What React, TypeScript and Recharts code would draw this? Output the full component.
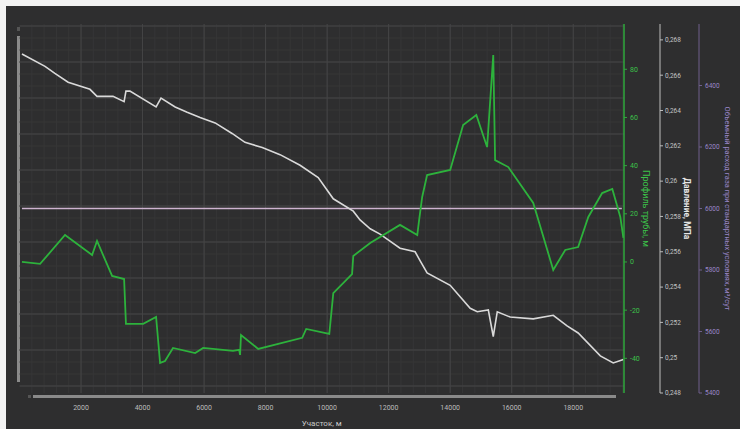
import React from "react";
import { LineChart, Line, XAxis, YAxis, CartesianGrid } from "recharts";

// Участок, м  /  давление, МПа
const pressureDist = [80, 830, 1150, 1580, 2290, 2520, 3040, 3400, 3460, 3590, 4440, 4600, 5060, 5450, 5870, 6360, 6910, 7330, 7890, 8470, 9120, 9710, 10200, 10850, 11070, 11400, 11720, 12370, 12860, 13020, 13250, 14000, 14650, 14880, 15240, 15400, 15530, 15950, 16700, 17350, 17800, 18160, 18880, 19300, 19630];
const pressureVals = [0.2672, 0.2665, 0.2661, 0.2656, 0.2652, 0.2648, 0.2648, 0.2645, 0.2651, 0.2651, 0.2642, 0.2647, 0.2642, 0.2639, 0.2636, 0.2633, 0.2627, 0.2622, 0.2619, 0.2615, 0.2609, 0.2602, 0.259, 0.2583, 0.2578, 0.2573, 0.257, 0.2562, 0.256, 0.2555, 0.2548, 0.2541, 0.2528, 0.2526, 0.2527, 0.2512, 0.2526, 0.2523, 0.2522, 0.2524, 0.2518, 0.2514, 0.2501, 0.2497, 0.2499];

// профиль трубы, м
const profileDist = [80, 670, 1480, 2360, 2520, 3010, 3400, 3460, 4020, 4440, 4570, 4730, 4990, 5710, 5970, 6940, 7140, 7170, 7200, 7760, 9190, 9320, 10070, 10200, 10810, 10850, 11400, 12370, 12930, 12990, 13090, 13250, 14000, 14420, 14850, 15200, 15400, 15460, 15890, 16700, 17350, 17740, 18160, 18490, 18940, 19270, 19530, 19630];
const profileVals = [0, -0.8, 11.2, 2.9, 8.7, -5.8, -7.1, -25.7, -25.7, -22.8, -41.9, -41.1, -35.7, -37.8, -35.7, -36.9, -36.5, -38.6, -30.3, -36.1, -31.5, -27.8, -29.9, -12.9, -5.0, 2.5, 7.9, 15.4, 11.2, 17.4, 27.0, 36.1, 38.2, 56.9, 61.0, 47.7, 85.9, 42.3, 39.4, 24.5, -3.3, 5.0, 6.2, 18.7, 28.6, 30.3, 18.7, 10.0];

// расход газа, м³/сут
const flowDist = [80, 19580];
const flowVals = [6000, 6000];

const xTicks = [2000, 4000, 6000, 8000, 10000, 12000, 14000, 16000, 18000];
const profileTicks = [-40, -20, 0, 20, 40, 60, 80];
const pressureTicks = [0.248, 0.25, 0.252, 0.254, 0.256, 0.258, 0.26, 0.262, 0.264, 0.266, 0.268];
const flowTicks = [5400, 5600, 5800, 6000, 6200, 6400];

const X_MAX = 19650;

const pressureData = pressureDist.map((d, i) => ({ d, v: pressureVals[i] }));
const profileData = profileDist.map((d, i) => ({ d, v: profileVals[i] }));
const flowData = flowDist.map((d, i) => ({ d, v: flowVals[i] }));

const minorX: number[] = [];
for (let t = 400; t < X_MAX; t += 400) minorX.push(t);

const fmtPressure = (v: number) => String(+v.toFixed(3)).replace(".", ",");

const plotBox = (p: any) => {
  const o = p && p.offset ? p.offset : {};
  return {
    left: typeof o.left === "number" ? o.left : 19.5,
    top: typeof o.top === "number" ? o.top : 24,
    width: typeof o.width === "number" ? o.width : 604.5,
  };
};

// right axes are stacked by id order, so ids are prefixed
const ID_PROFILE = "a_profile";
const ID_PRESSURE = "b_pressure";
const ID_FLOW = "c_flow";

export default function App() {
  return (
    <div style={{ position: "relative", width: 740, height: 429, background: "#f2f2f2", overflow: "hidden" }}>
      <style>{`body{margin:0}`}</style>
      <div style={{ position: "absolute", left: 6, top: 6, right: 0, bottom: 0, background: "#2e2e2f" }} />
      {/* scrollbars */}
      <div style={{ position: "absolute", left: 17, top: 36, width: 3, height: 346, background: "#8a8a8a" }} />
      <div style={{ position: "absolute", left: 17, top: 27, width: 3, height: 4, background: "#555" }} />
      <div style={{ position: "absolute", left: 33, top: 395, width: 583, height: 3, background: "#8a8a8a" }} />
      <div style={{ position: "absolute", left: 28, top: 395, width: 3, height: 3, background: "#555" }} />
      <div style={{ position: "absolute", left: 0, top: 0 }}>
        <LineChart
          width={740}
          height={429}
          margin={{ top: 24, right: 0, left: 19.5, bottom: 0 }}
          style={{ fontFamily: "Roboto, 'DejaVu Sans', sans-serif" }}
        >
          <CartesianGrid
            stroke="#363637"
            strokeWidth={1}
            verticalCoordinatesGenerator={(p: any) => {
              const b = plotBox(p);
              return minorX.map((t) => b.left + (t * b.width) / X_MAX);
            }}
            horizontalCoordinatesGenerator={(p: any) => {
              const b = plotBox(p);
              const out: number[] = [];
              for (let k = 0; k < 31; k++) out.push(b.top + 2 + k * 12);
              return out;
            }}
          />
          <CartesianGrid
            stroke="#454546"
            strokeWidth={1}
            verticalCoordinatesGenerator={(p: any) => {
              const b = plotBox(p);
              return xTicks.map((t) => b.left + (t * b.width) / X_MAX);
            }}
            horizontalCoordinatesGenerator={(p: any) => {
              const b = plotBox(p);
              const out: number[] = [];
              for (let k = 0; k < 11; k++) out.push(b.top + 2 + k * 36);
              return out;
            }}
          />
          <XAxis
            dataKey="d"
            type="number"
            domain={[0, X_MAX]}
            ticks={xTicks}
            interval={0}
            allowDataOverflow
            axisLine={false}
            tickLine={false}
            tickSize={0}
            tickMargin={12}
            height={36}
            tick={{ fill: "#bcbcbc", fontSize: 7 }}
            label={{ value: "Участок, м", position: "insideBottom", offset: 3, fill: "#c8c8c8", fontSize: 8 }}
          />
          <YAxis
            yAxisId={ID_PROFILE}
            orientation="right"
            width={36}
            domain={[-54.4, 98.8]}
            ticks={profileTicks}
            interval={0}
            allowDataOverflow
            axisLine={{ stroke: "#2fa83c", strokeWidth: 1.5 }}
            tickLine={{ stroke: "#2fa83c" }}
            tickSize={3}
            tickMargin={3}
            tick={{ fill: "#3cc24a", fontSize: 7 }}
            label={{ value: "Профиль трубы, м", angle: 90, position: "center", dx: 4, fill: "#3cc24a", fontSize: 9 }}
          />
          <YAxis
            yAxisId={ID_PRESSURE}
            orientation="right"
            width={39}
            domain={[0.248, 0.2689]}
            ticks={pressureTicks}
            interval={0}
            allowDataOverflow
            axisLine={{ stroke: "#bdbdbd" }}
            tickLine={{ stroke: "#bdbdbd" }}
            tickSize={3}
            tickMargin={2}
            tickFormatter={fmtPressure}
            tick={{ fill: "#c4c4c4", fontSize: 6.5 }}
            label={{ value: "Давление, МПа", angle: 90, position: "center", dx: 8, fill: "#e6e6e6", fontSize: 8.5, fontWeight: 700 }}
          />
          <YAxis
            yAxisId={ID_FLOW}
            orientation="right"
            width={41}
            domain={[5400, 6600]}
            ticks={flowTicks}
            interval={0}
            allowDataOverflow
            axisLine={{ stroke: "#6e5f8c" }}
            tickLine={{ stroke: "#6e5f8c" }}
            tickSize={3}
            tickMargin={3}
            tick={{ fill: "#9a86c8", fontSize: 6.5 }}
            label={{
              value: "Объемный расход газа при стандартных условиях, м³/сут",
              angle: 90,
              position: "center",
              dx: 8,
              fill: "#9a86c8",
              fontSize: 7.5,
            }}
          />
          <Line
            yAxisId={ID_FLOW}
            data={flowData}
            dataKey="v"
            stroke="#cdb3cf"
            strokeWidth={1.6}
            dot={false}
            isAnimationActive={false}
          />
          <Line
            yAxisId={ID_PRESSURE}
            data={pressureData}
            dataKey="v"
            stroke="#d9d9d9"
            strokeWidth={1.6}
            dot={false}
            isAnimationActive={false}
          />
          <Line
            yAxisId={ID_PROFILE}
            data={profileData}
            dataKey="v"
            stroke="#2db23c"
            strokeWidth={1.8}
            dot={false}
            isAnimationActive={false}
          />
        </LineChart>
      </div>
    </div>
  );
}
